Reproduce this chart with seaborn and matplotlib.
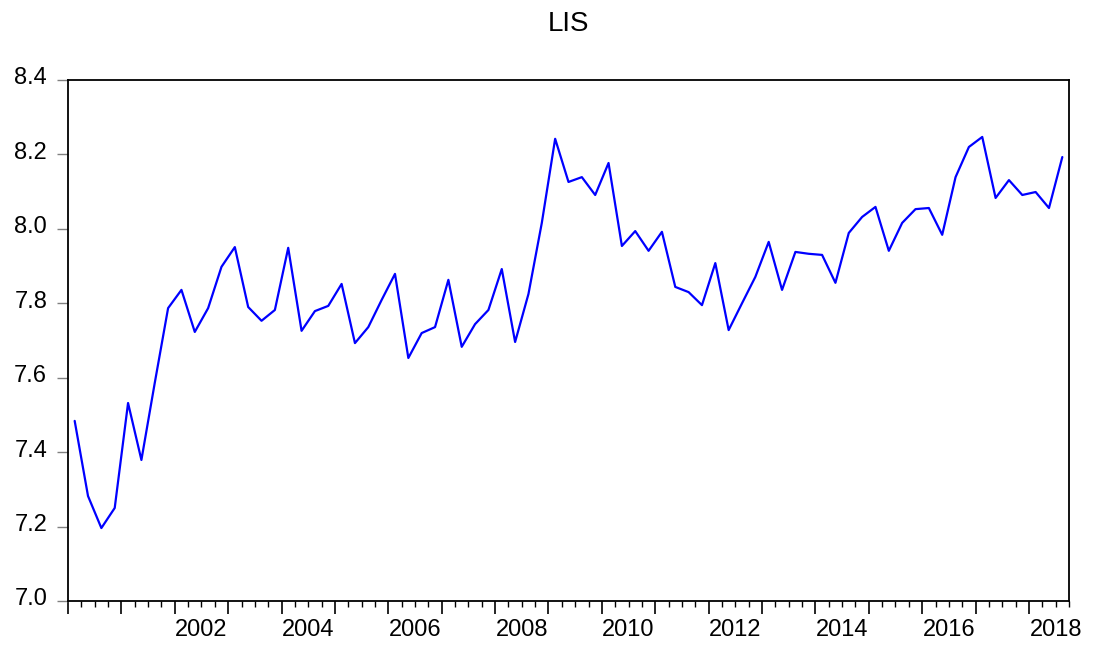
import numpy as np
import pandas as pd
import seaborn as sns
import matplotlib.pyplot as plt
from matplotlib.ticker import MultipleLocator
from matplotlib.transforms import ScaledTranslation

# quarterly series, 2000Q1 - 2018Q3
start_year = 2000
lis = [7.484, 7.282, 7.196, 7.250, 7.532, 7.379, 7.586, 7.787,
       7.836, 7.723, 7.787, 7.898, 7.951, 7.790, 7.753, 7.782,
       7.949, 7.726, 7.779, 7.793, 7.852, 7.693, 7.736, 7.809,
       7.879, 7.653, 7.720, 7.736, 7.863, 7.683, 7.744, 7.782,
       7.892, 7.696, 7.825, 8.016, 8.242, 8.126, 8.139, 8.091,
       8.177, 7.954, 7.994, 7.941, 7.992, 7.844, 7.830, 7.795,
       7.908, 7.728, 7.800, 7.871, 7.965, 7.836, 7.938, 7.933,
       7.930, 7.855, 7.989, 8.032, 8.059, 7.941, 8.016, 8.053,
       8.056, 7.984, 8.139, 8.220, 8.247, 8.083, 8.131, 8.091,
       8.099, 8.056, 8.193]
label_years = [2002, 2004, 2006, 2008, 2010, 2012, 2014, 2016, 2018]
y_ticks = [7.0, 7.2, 7.4, 7.6, 7.8, 8.0, 8.2, 8.4]

# point in the middle of each quarter
t = start_year + np.arange(len(lis)) / 4 + 0.125
df = pd.DataFrame({"t": t, "LIS": lis})

sns.set_style("ticks")
plt.rcParams['font.family'] = ['Liberation Sans', 'DejaVu Sans']
plt.rcParams['text.color'] = 'black'
plt.rcParams['xtick.labelcolor'] = 'black'
plt.rcParams['ytick.labelcolor'] = 'black'

fig = plt.figure(figsize=(10.97, 6.45), dpi=100)
ax = fig.add_axes([68/1097, 1 - 601/645, (1069 - 68)/1097, (601 - 80)/645])

sns.lineplot(data=df, x="t", y="LIS", color="#0000ff", linewidth=1.6, ax=ax)

ax.set_xlim(start_year, start_year + len(lis) / 4)
ax.set_ylim(7.0, 8.4)
ax.set_yticks(y_ticks)
ax.set_yticklabels([f"{v:.1f}" for v in y_ticks], fontsize=17)
ax.tick_params(axis="y", length=8, width=1, color="#808080", pad=7)
# labels sit a little above their ticks in the original
for lab in ax.get_yticklabels():
    lab.set_transform(lab.get_transform() + ScaledTranslation(0, 4/100, fig.dpi_scale_trans))

# year ticks long, quarter ticks short, labels in middle of the year
ax.xaxis.set_major_locator(MultipleLocator(1))
ax.xaxis.set_minor_locator(MultipleLocator(0.25))
ax.set_xticklabels([])
ax.tick_params(axis="x", which="major", length=9, width=1.2, color="black")
ax.tick_params(axis="x", which="minor", length=4.5, width=1, color="black")
for yr in label_years:
    ax.text(yr + 0.5, -0.035, str(yr), transform=ax.get_xaxis_transform(),
            ha="center", va="top", fontsize=17)

for s in ax.spines.values():
    s.set_color("black")
    s.set_linewidth(1.3)

ax.set_xlabel("")
ax.set_ylabel("")
ax.set_title("LIS", fontsize=20, pad=35, color="black")

fig.savefig("out.png", dpi=100)
